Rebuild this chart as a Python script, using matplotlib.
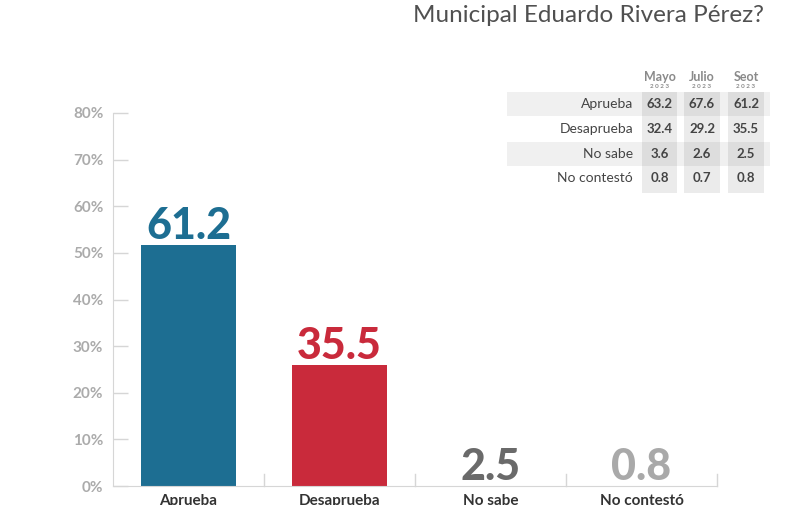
import matplotlib.pyplot as plt
from matplotlib.patches import Rectangle
from matplotlib.transforms import blended_transform_factory

# datos de la encuesta (septiembre 2023)
categorias = ['Aprueba', 'Desaprueba', 'No sabe', 'No contestó']
valores = [61.2, 35.5, 2.5, 0.8]
colores = ['#1d6e92', '#c92a3b', '#6a6a6a', '#a9a9a9']

# tabla comparativa
meses = ['Mayo', 'Julio', 'Seot']
anio = '2023'
tabla_mayo = [63.2, 32.4, 3.6, 0.8]
tabla_julio = [67.6, 29.2, 2.6, 0.7]
tabla_seot = [61.2, 35.5, 2.5, 0.8]

titulo = 'Municipal Eduardo Rivera Pérez?'
ticks_pct = [0, 10, 20, 30, 40, 50, 60, 70, 80]

# el eje original arranca desplazado unos 9.5 puntos
BASE = 9.5
FUENTE = ['Lato', 'DejaVu Sans']

plt.rcParams['font.family'] = FUENTE

fig = plt.figure(figsize=(8, 5.05), dpi=100)
fig.patch.set_facecolor('white')

ax = fig.add_axes([113 / 800, 19 / 505, 604 / 800, 373 / 505])
x = list(range(len(categorias)))
ax.bar(x, valores, width=0.63, color=colores, bottom=0, zorder=2)
ax.set_xlim(-0.5, len(categorias) - 0.5)
ax.set_ylim(BASE, BASE + 80)

for i, v in enumerate(valores):
    ax.annotate(f'{v}', (i, max(v, BASE)), xytext=(0, 4), textcoords='offset points',
                ha='center', va='baseline', fontsize=31, fontweight='black',
                color=colores[i], zorder=3)

ax.set_yticks([BASE + t for t in ticks_pct])
ax.set_yticklabels([f'{t}%' for t in ticks_pct])
ax.tick_params(axis='y', direction='in', length=11, width=1, color='#d6d6d6',
               labelsize=11, labelcolor='#ababab', pad=7)
for lab in ax.get_yticklabels():
    lab.set_fontweight('bold')

ax.set_xticks(x)
ax.set_xticklabels(categorias)
ax.tick_params(axis='x', length=0, labelsize=11, labelcolor='#333333', pad=6)
for lab in ax.get_xticklabels():
    lab.set_fontweight('bold')

for s in ['top', 'right']:
    ax.spines[s].set_visible(False)
ax.spines['left'].set_color('#d6d6d6')
ax.spines['bottom'].set_color('#d6d6d6')

# separadores entre categorias
trans = blended_transform_factory(ax.transData, ax.transAxes)
for b in [0.5, 1.5, 2.5, 3.5]:
    ax.plot([b, b], [0, 0.033], color='#d6d6d6', lw=1, transform=trans, clip_on=False)

fig.text(764 / 800, 1 - 22 / 505, titulo, ha='right', va='baseline',
         fontsize=17.5, color='#505050', fontweight='normal')

# tabla en coordenadas de pixel
at = fig.add_axes([0, 0, 1, 1], zorder=5)
at.set_xlim(0, 800)
at.set_ylim(505, 0)
at.axis('off')

filas_y = [104, 129, 153.5, 178]
col_x = [(642, 677), (684, 720), (728, 764)]
for k in [0, 2]:
    at.add_patch(Rectangle((507, filas_y[k] - 12), 263, 24, color='black', alpha=0.06, lw=0))
for x0, x1 in col_x:
    at.add_patch(Rectangle((x0, 92), x1 - x0, 101, color='black', alpha=0.08, lw=0))

columnas = [tabla_mayo, tabla_julio, tabla_seot]
for j, (x0, x1) in enumerate(col_x):
    cx = (x0 + x1) / 2
    at.text(cx, 77, meses[j], ha='center', va='center', fontsize=9,
            color='#8a8a8a', fontweight='bold')
    at.text(cx, 86, ' '.join(anio), ha='center', va='center', fontsize=4.5,
            color='#8a8a8a', fontweight='bold')
    for k, val in enumerate(columnas[j]):
        at.text(cx, filas_y[k], f'{val}', ha='center', va='center', fontsize=9.5,
                color='#444444', fontweight='bold')

for k, cat in enumerate(categorias):
    at.text(633, filas_y[k], cat, ha='right', va='center', fontsize=10, color='#444444')

fig.savefig('out.png', dpi=100, facecolor='white')
